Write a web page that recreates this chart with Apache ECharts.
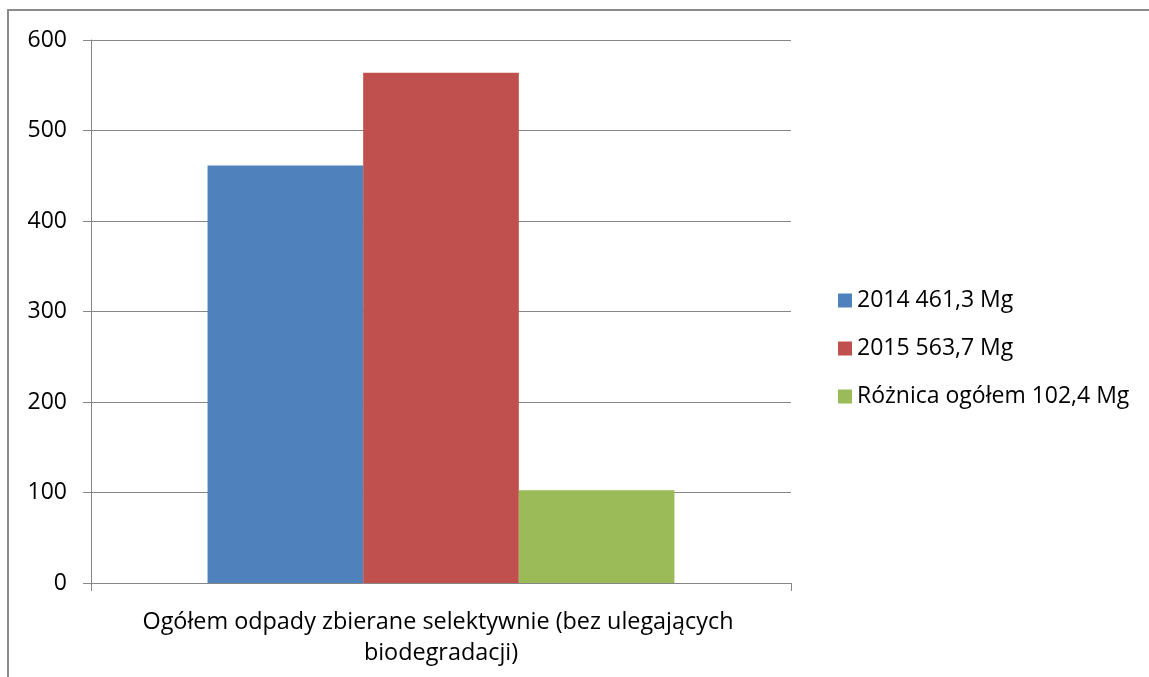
<!DOCTYPE html>
<html>
<head>
<meta charset="utf-8">
<script src="https://cdn.jsdelivr.net/npm/echarts@6/dist/echarts.min.js"></script>
<style>
    html, body { margin: 0; padding: 0; background: #fff; }
    #chart { width: 1149px; height: 677px; }
</style>
</head>
<body>
<div id="chart"></div>
<script>
(function(win) {

    var categories = ['Ogółem odpady zbierane selektywnie (bez ulegających biodegradacji)'],
        seriesNames = ['2014 461,3 Mg', '2015 563,7 Mg', 'Różnica ogółem 102,4 Mg'],
        values2014 = [461.3],
        values2015 = [563.7],
        valuesDiff = [102.4],
        colors = ['#4f81bd', '#c0504d', '#9bbb59'],
        fontName = '"Open Sans", sans-serif',
        gridColor = '#868686';

    var chart = echarts.init(document.getElementById('chart'), null, { renderer: 'canvas' });

    var makeBar = function(name, data, color) {
        return {
            name: name,
            type: 'bar',
            data: data,
            barGap: 0,
            barCategoryGap: '33.3%',
            itemStyle: { color: color },
            emphasis: { disabled: true }
        };
    };

    chart.setOption({
        animation: false,
        textStyle: { fontFamily: fontName },
        graphic: [{
            type: 'rect',
            shape: { x: 8, y: 10, width: 1300, height: 800 },
            style: { fill: 'none', stroke: '#8a8a8a', lineWidth: 2 },
            silent: true
        }],
        grid: { left: 91, right: 358, top: 40, bottom: 94 },
        legend: {
            orient: 'vertical',
            left: 833,
            top: 284,
            itemWidth: 14,
            itemHeight: 14,
            itemGap: 25,
            icon: 'rect',
            textStyle: { fontSize: 23, color: '#000', fontFamily: fontName },
            data: seriesNames
        },
        xAxis: {
            type: 'category',
            data: categories,
            axisLine: { lineStyle: { color: gridColor, width: 1 } },
            axisTick: { show: true, length: 8, lineStyle: { color: gridColor } },
            axisLabel: {
                color: '#000',
                fontSize: 23.4,
                fontFamily: fontName,
                width: 650,
                overflow: 'break',
                lineHeight: 31,
                margin: 24
            }
        },
        yAxis: {
            type: 'value',
            min: 0,
            max: 600,
            interval: 100,
            axisLine: { show: true, lineStyle: { color: gridColor } },
            axisTick: { show: true, length: 8, lineStyle: { color: gridColor } },
            splitLine: { lineStyle: { color: gridColor } },
            axisLabel: { color: '#000', fontSize: 23, fontFamily: fontName, margin: 24 }
        },
        series: [
            makeBar(seriesNames[0], values2014, colors[0]),
            makeBar(seriesNames[1], values2015, colors[1]),
            makeBar(seriesNames[2], valuesDiff, colors[2])
        ]
    });

}(this));
</script>
</body>
</html>
